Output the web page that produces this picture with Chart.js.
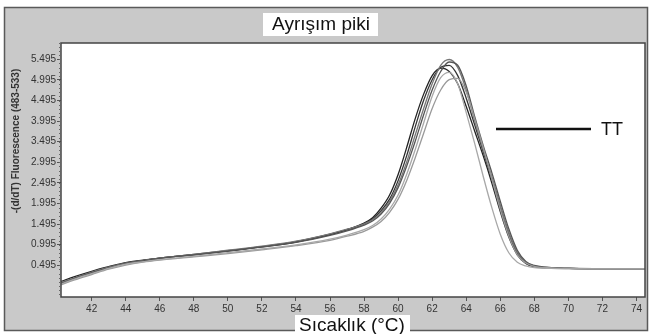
<!DOCTYPE html>
<html>
<head>
<meta charset="utf-8">
<script src="https://cdn.jsdelivr.net/npm/chart.js@4/dist/chart.umd.min.js"></script>
<style>
  html, body { margin: 0; padding: 0; background: #fff; }
  #wrap { width: 651px; height: 334px; }
</style>
</head>
<body>
<div id="wrap"><canvas id="meltChart" width="651" height="334"></canvas></div>
<script>
const titleText = "Ayrışım piki";
const xTitle = "Sıcaklık (°C)";
const yTitle = "-(d/dT) Fluorescence (483-533)";
const legendLabel = "TT";

const xTicks = [42, 44, 46, 48, 50, 52, 54, 56, 58, 60, 62, 64, 66, 68, 70, 72, 74];
const yTicks = [0.495, 0.995, 1.495, 1.995, 2.495, 2.995, 3.495, 3.995, 4.495, 4.995, 5.495];

const temps = [40.2, 41, 42, 43, 44, 45, 46, 48, 50, 52, 54, 56, 57, 58, 58.5, 59, 59.5, 60, 60.5,
  61, 61.5, 62, 62.5, 63, 63.5, 64, 64.5, 65, 65.5, 66, 66.5, 67, 67.5, 68, 69, 70, 72, 74.5];

const sampleA = [0.1, 0.22, 0.35, 0.46, 0.56, 0.62, 0.67, 0.75, 0.84, 0.94, 1.06, 1.24, 1.36, 1.52, 1.65, 1.88, 2.2, 2.7, 3.35,
  4.05, 4.65, 5.1, 5.28, 5.2, 4.9, 4.35, 3.75, 3.15, 2.5, 1.8, 1.18, 0.75, 0.54, 0.46, 0.43, 0.42, 0.41, 0.41];
const sampleB = [0.06, 0.18, 0.32, 0.44, 0.55, 0.61, 0.67, 0.76, 0.85, 0.95, 1.07, 1.25, 1.36, 1.5, 1.62, 1.82, 2.1, 2.55, 3.15,
  3.85, 4.5, 5.0, 5.3, 5.35, 5.1, 4.55, 3.9, 3.25, 2.6, 1.9, 1.25, 0.78, 0.55, 0.47, 0.43, 0.42, 0.41, 0.4];
const sampleC = [0.08, 0.19, 0.33, 0.45, 0.55, 0.61, 0.67, 0.76, 0.86, 0.96, 1.08, 1.26, 1.37, 1.5, 1.6, 1.78, 2.05, 2.45, 3.0,
  3.65, 4.3, 4.9, 5.35, 5.49, 5.3, 4.75, 4.0, 3.3, 2.65, 1.95, 1.3, 0.82, 0.57, 0.48, 0.43, 0.42, 0.41, 0.41];
const sampleD = [0.05, 0.18, 0.31, 0.43, 0.54, 0.6, 0.66, 0.75, 0.84, 0.94, 1.05, 1.22, 1.33, 1.47, 1.57, 1.74, 2.0, 2.38, 2.9,
  3.5, 4.15, 4.75, 5.2, 5.43, 5.35, 4.85, 4.1, 3.4, 2.75, 2.05, 1.38, 0.86, 0.59, 0.49, 0.44, 0.42, 0.41, 0.41];
const sampleE = [0.02, 0.14, 0.27, 0.4, 0.5, 0.57, 0.62, 0.7, 0.78, 0.87, 0.97, 1.1, 1.2, 1.32, 1.42, 1.56, 1.78, 2.1, 2.55,
  3.1, 3.7, 4.3, 4.75, 5.0, 5.03, 4.7, 4.05, 3.35, 2.6, 1.85, 1.2, 0.75, 0.55, 0.47, 0.43, 0.42, 0.41, 0.41];
const sampleF = [0.04, 0.16, 0.29, 0.42, 0.52, 0.58, 0.63, 0.71, 0.8, 0.89, 0.99, 1.13, 1.23, 1.36, 1.46, 1.62, 1.86, 2.2, 2.7,
  3.3, 3.95, 4.6, 5.05, 5.18, 4.9, 4.2, 3.45, 2.65, 1.9, 1.25, 0.8, 0.57, 0.48, 0.44, 0.42, 0.41, 0.41, 0.41];

const samples = [sampleF, sampleE, sampleD, sampleC, sampleB, sampleA];
const sampleColors = ["#a8a8a8", "#9a9a9a", "#555555", "#777777", "#333333", "#222222"];

const toPoints = (vals) => vals.map((v, i) => ({ x: temps[i], y: v }));

// grey panel, white plot area, boxed title and legend drawn around the chart
const framePlugin = {
  id: "frame",
  beforeDraw(chart) {
    const { ctx, chartArea: a } = chart;
    ctx.save();
    ctx.fillStyle = "#c9c9c9";
    ctx.fillRect(4, 7, 644, 324);
    ctx.strokeStyle = "#5a5a5a";
    ctx.lineWidth = 1.5;
    ctx.strokeRect(4.5, 7.5, 643, 323);
    ctx.fillStyle = "#fff";
    ctx.fillRect(a.left, a.top, a.right - a.left, a.bottom - a.top);
    ctx.restore();
  },
  afterDraw(chart) {
    const { ctx, chartArea: a, scales } = chart;
    ctx.save();
    ctx.strokeStyle = "#444";
    ctx.lineWidth = 1.5;
    ctx.strokeRect(a.left, a.top, a.right - a.left, a.bottom - a.top);

    // minor ticks on y axis
    ctx.strokeStyle = "#666";
    ctx.lineWidth = 1;
    for (let v = 0.495 - 0.7; v < 5.9; v += 0.1) {
      const y = Math.round(scales.y.getPixelForValue(v)) + 0.5;
      if (y < a.top || y > a.bottom) continue;
      ctx.beginPath();
      ctx.moveTo(a.left - 2, y);
      ctx.lineTo(a.left, y);
      ctx.stroke();
    }

    // title box
    ctx.fillStyle = "#fff";
    ctx.fillRect(263, 13, 115, 23);
    ctx.fillStyle = "#111";
    ctx.font = "19px 'Liberation Sans', Arial, sans-serif";
    ctx.textAlign = "center";
    ctx.textBaseline = "middle";
    ctx.fillText(titleText, 321, 25);

    // x title box
    ctx.fillStyle = "#fff";
    ctx.fillRect(295, 315, 115, 19);
    ctx.fillStyle = "#111";
    ctx.font = "19px 'Liberation Sans', Arial, sans-serif";
    ctx.fillText(xTitle, 352, 326);

    // y title
    ctx.translate(16, 141);
    ctx.rotate(-Math.PI / 2);
    ctx.font = "bold 10px 'Liberation Sans', Arial, sans-serif";
    ctx.fillStyle = "#333";
    ctx.fillText(yTitle, 0, 0);
    ctx.setTransform(1, 0, 0, 1, 0, 0);

    // legend
    ctx.strokeStyle = "#111";
    ctx.lineWidth = 2.5;
    ctx.beginPath();
    ctx.moveTo(496, 129);
    ctx.lineTo(591, 129);
    ctx.stroke();
    ctx.fillStyle = "#111";
    ctx.font = "18px 'Liberation Sans', Arial, sans-serif";
    ctx.fillText(legendLabel, 612, 130);
    ctx.restore();
  },
};

new Chart(document.getElementById("meltChart"), {
  type: "line",
  data: {
    datasets: samples.map((s, i) => ({
      data: toPoints(s),
      borderColor: sampleColors[i],
      borderWidth: 1.3,
      pointRadius: 0,
      fill: false,
      cubicInterpolationMode: "monotone",
    })),
  },
  options: {
    responsive: false,
    animation: false,
    layout: { padding: { top: 43, right: 6, left: 0, bottom: 0 } },
    plugins: { legend: { display: false }, tooltip: { enabled: false } },
    scales: {
      x: {
        type: "linear",
        min: 40.2,
        max: 74.5,
        afterBuildTicks: (s) => { s.ticks = xTicks.map((v) => ({ value: v })); },
        afterFit: (s) => { s.height = 37; },
        grid: { drawOnChartArea: false, tickLength: 4, color: "#555" },
        border: { display: false },
        ticks: {
          color: "#333",
          font: { size: 10, family: "'Liberation Sans', Arial, sans-serif" },
          padding: 2,
          maxRotation: 0,
          autoSkip: false,
        },
      },
      y: {
        min: -0.275,
        max: 5.891,
        afterBuildTicks: (s) => { s.ticks = yTicks.map((v) => ({ value: v })); },
        afterFit: (s) => { s.width = 61; },
        grid: { drawOnChartArea: false, tickLength: 4, color: "#555" },
        border: { display: false },
        ticks: {
          color: "#333",
          font: { size: 10, family: "'Liberation Sans', Arial, sans-serif" },
          padding: 1,
          autoSkip: false,
          callback: (v) => v.toFixed(3),
        },
      },
    },
  },
  plugins: [framePlugin],
});
</script>
</body>
</html>
